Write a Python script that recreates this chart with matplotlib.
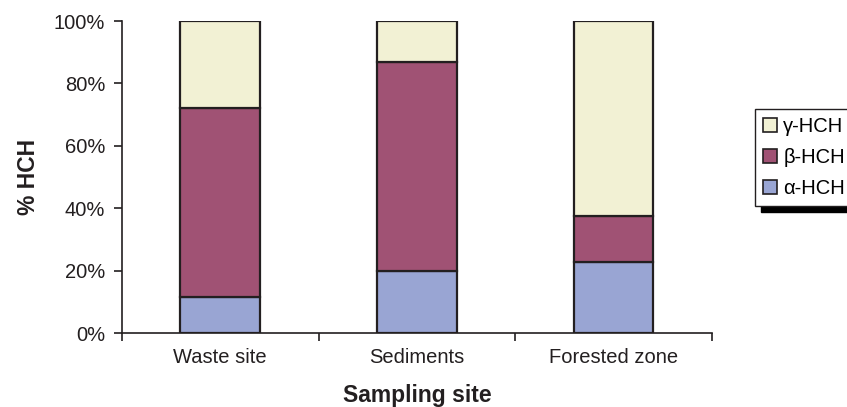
### Stacked share of HCH isomers at each sampling site

import numpy as np
import matplotlib.pyplot as plt

plt.rcParams['font.family'] = ['Liberation Sans', 'DejaVu Sans']

### Data (percent of total HCH)
sites = ['Waste site', 'Sediments', 'Forested zone']
alpha_hch = [11.5, 20.0, 22.7]
beta_hch = [60.6, 67.0, 14.8]
gamma_hch = [27.9, 13.0, 62.5]
isomers = ['α-HCH', 'β-HCH', 'γ-HCH']
colors = ['#99a5d3', '#a05274', '#f2f1d4']

fig = plt.figure(figsize=(8.47, 4.07), dpi=100)
ax = fig.add_axes([0.144, 0.1818, 0.6966, 0.7666])

x = np.arange(len(sites))
bottom = np.zeros(len(sites))
bars = []
for vals, name, c in zip([alpha_hch, beta_hch, gamma_hch], isomers, colors):
    b = ax.bar(x, vals, width=0.405, bottom=bottom, color=c,
               edgecolor='#231f20', linewidth=1.6, label=name)
    bars.append(b)
    bottom += np.array(vals)

### Axes styling
ax.set_xlim(-0.5, 2.5)
ax.set_ylim(0, 100)
ax.set_yticks(np.arange(0, 101, 20))
ax.set_yticklabels([f'{v}%' for v in range(0, 101, 20)])
ax.set_xticks(x)
ax.set_xticklabels(sites)
ax.set_xticks([-0.5, 0.5, 1.5, 2.5], minor=True)
ax.tick_params(axis='x', which='major', length=0, pad=11, labelsize=14.5, colors='#231f20')
ax.tick_params(axis='x', which='minor', length=6, width=1.2, color='#231f20')
ax.tick_params(axis='y', length=6, width=1.2, pad=6, labelsize=14.5, colors='#231f20')
for side in ['top', 'right']:
    ax.spines[side].set_visible(False)
for side in ['left', 'bottom']:
    ax.spines[side].set_color('#231f20')
    ax.spines[side].set_linewidth(1.2)

ax.set_xlabel('Sampling site', fontsize=16.5, fontweight='bold', labelpad=12, color='#231f20')
ax.set_ylabel('% HCH', fontsize=16.5, fontweight='bold', labelpad=10, color='#231f20')

### Legend, reversed so gamma sits on top
leg = fig.legend(bars[::-1], isomers[::-1], loc='upper left',
                 bbox_to_anchor=(755 / 847, 1 - 109 / 407), borderaxespad=0,
                 fontsize=14.5, frameon=True, fancybox=False,
                 handlelength=0.7, handleheight=0.7, handletextpad=0.3,
                 labelspacing=0.6, borderpad=0.4,
                 shadow={'ox': 4.5, 'oy': -4, 'color': 'black', 'alpha': 1})
leg.get_frame().set_edgecolor('#231f20')
leg.get_frame().set_linewidth(1.0)
for h in leg.legend_handles:
    h.set_linewidth(1.2)

plt.savefig('out.png', dpi=100)
